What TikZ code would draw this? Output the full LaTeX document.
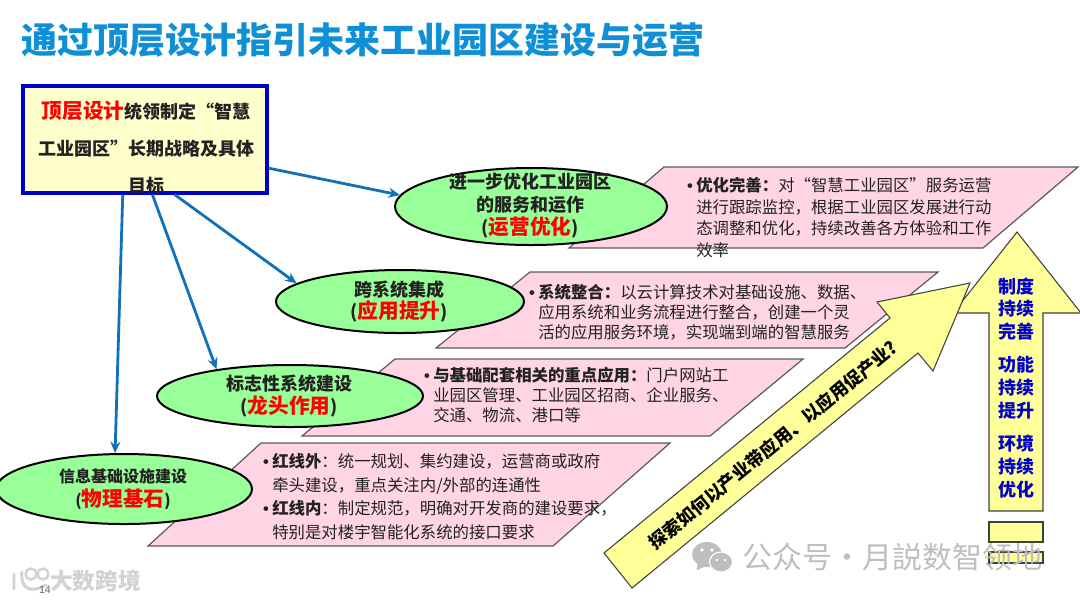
\documentclass[tikz,border=0pt]{standalone}
\usepackage{fontspec}
\setmainfont{Noto Sans CJK SC}
\newfontfamily\latf{Liberation Sans}
\usetikzlibrary{shapes.geometric,calc,arrows.meta}
\definecolor{titleblue}{HTML}{0F8FD5}
\definecolor{linkblue}{HTML}{1070B8}
\definecolor{boxblue}{HTML}{0000CC}
\definecolor{boxfill}{HTML}{FFFFCC}
\definecolor{ovalfill}{HTML}{99FF99}
\definecolor{pinkfill}{HTML}{FFD5E5}
\definecolor{pinkedge}{HTML}{5A5A5A}
\definecolor{arrowfill}{HTML}{FFFF99}
\definecolor{bodytext}{HTML}{222222}
\definecolor{wmgray}{HTML}{BEBEBE}
\definecolor{wmlight}{HTML}{D2D2D2}
\newcommand{\hl}[1]{{\color{red}\fontsize{15.5pt}{15.5pt}\selectfont #1}}
\newcommand{\bul}{\llap{{\latf\bfseries •}\hspace{2.5pt}}}
\tikzset{
  oval/.style={ellipse,draw=black,line width=1.5pt,fill=ovalfill,inner sep=0pt},
  ovaltext/.style={inner sep=0pt,align=center,font=\bfseries\fontsize{13.5pt}{17.2pt}\selectfont,text=bodytext},
  pinkpoly/.style={draw=pinkedge,line width=0.9pt,fill=pinkfill},
  body/.style={inner sep=0pt,anchor=north west,align=left,text=bodytext},
  link/.style={draw=linkblue,line width=2.1pt,-{Stealth[length=8.5pt,width=7.5pt]}},
  yellowpoly/.style={draw=black!75,line width=0.8pt,fill=arrowfill},
  sidetext/.style={inner sep=0pt,align=center,text=boxblue,font=\bfseries\fontsize{13.5pt}{17.2pt}\selectfont}
}
\begin{document}
\begin{tikzpicture}[x=0.75pt,y=-0.75pt]
\useasboundingbox (0,0) rectangle (1080,601);
\node[anchor=west,inner sep=0pt,text=titleblue,font=\bfseries\fontsize{26.95pt}{27pt}\selectfont] (title) at (21,40) {通过顶层设计指引未来工业园区建设与运营};
% pink panels
\draw[pinkpoly] (664,167) -- (1078,167) -- (983,248) -- (569,248) -- cycle;
\draw[pinkpoly] (530,272) -- (938,272) -- (845,348) -- (436,348) -- cycle;
\draw[pinkpoly] (395,359) -- (803,359) -- (710,436) -- (302,436) -- cycle;
\draw[pinkpoly] (261,443) -- (670,443) -- (553,546) -- (148,546) -- cycle;
% top box
\node[draw=boxblue,line width=2.4pt,fill=boxfill,minimum width=244pt*0.75,minimum height=107pt*0.75,inner sep=0pt] (box) at (145,139.5) {};
% ovals
\node[oval,minimum width=272pt*0.75,minimum height=77pt*0.75] (e1) at (531,206.5) {};
\node[oval,minimum width=248pt*0.75,minimum height=63pt*0.75] (e2) at (400,301.5) {};
\node[oval,minimum width=266pt*0.75,minimum height=62pt*0.75] (e3) at (290,396) {};
\node[oval,minimum width=256pt*0.75,minimum height=70pt*0.75] (e4) at (124,489) {};
% connectors
\draw[link] ($(box.north east)!0.76!(box.south east)$) -- (e1.175);
\draw[link] ($(box.south west)!0.62!(box.south east)$) -- (e2.170);
\draw[link] ($(box.south west)!0.53!(box.south east)$) -- (e3.160.6);
\draw[link] ($(box.south west)!0.41!(box.south east)$) -- (e4.104.4);
% box text
\node[inner sep=0pt,align=center,text=bodytext,font=\bfseries\fontsize{13.5pt}{28pt}\selectfont] (boxtext) at (146,147.5)
 {\hl{顶层设计}统领制定“智慧\\工业园区”长期战略及具体\\目标};
% oval text
\node[ovaltext] (e1t) at (530,206) {进一步优化工业园区\\的服务和运作\\({\hl{运营优化}})};
\node[ovaltext] (e2t) at (399,301.5) {跨系统集成\\({\hl{应用提升}})};
\node[ovaltext] (e3t) at (289,396) {标志性系统建设\\({\hl{龙头作用}})};
\node[ovaltext,font=\bfseries\fontsize{12pt}{17.6pt}\selectfont] (e4t) at (123,489) {信息基础设施建设\\({\hl{物理基石}})};
% panel text
\node[body,font=\fontsize{12.3pt}{16.3pt}\selectfont] (p1t) at (696,177)
 {\bul{\bfseries 优化完善：}对“智慧工业园区”服务运营\\进行跟踪监控，根据工业园区发展进行动\\态调整和优化，持续改善各方体验和工作\\效率};
\node[body,font=\fontsize{12.3pt}{15pt}\selectfont] (p2t) at (538,284)
 {\bul{\bfseries 系统整合：}以云计算技术对基础设施、数据、\\应用系统和业务流程进行整合，创建一个灵\\活的应用服务环境，实现端到端的智慧服务};
\node[body,font=\fontsize{12.3pt}{15pt}\selectfont] (p3t) at (433,367)
 {\bul{\bfseries 与基础配套相关的重点应用：}门户网站工\\业园区管理、工业园区招商、企业服务、\\交通、物流、港口等};
\node[body,font=\fontsize{12.3pt}{17.7pt}\selectfont] (p4t) at (272,453)
 {\bul{\bfseries 红线外}：统一规划、集约建设，运营商或政府\\牵头建设，重点关注内/外部的连通性\\\bul{\bfseries 红线内}：制定规范，明确对开发商的建设要求，\\特别是对楼宇智能化系统的接口要求};
% vertical arrow
\draw[yellowpoly] (1017,232) -- (1081,313) -- (1043,313) -- (1043,511) -- (989,511) -- (989,313) -- (953,313) -- cycle;
\node[yellowpoly,minimum width=54pt*0.75,minimum height=20pt*0.75,inner sep=0pt] (r1) at (1016,532) {};
\node[yellowpoly,minimum width=54pt*0.75,minimum height=11pt*0.75,inner sep=0pt] (r2) at (1016,557.5) {};
% diagonal arrow
\draw[yellowpoly] (604,553) -- (890,318) -- (877,302) -- (970,283) -- (933,371) -- (918,353) -- (632,588) -- cycle;
\node[inner sep=0pt,rotate=39.4,text=black,font=\bfseries\fontsize{13.5pt}{14pt}\selectfont] (diag) at (773,445) {探索如何以产业带应用、以应用促产业?};
% side text
\node[sidetext] (s1) at (1016,309) {制度\\持续\\完善};
\node[sidetext] (s2) at (1016,388) {功能\\持续\\提升};
\node[sidetext] (s3) at (1016,467) {环境\\持续\\优化};
% watermarks
\fill[wmgray] (707,554.5) ellipse (15 and 12.5);
\draw[wmgray,fill=wmgray] (698,563) -- (697,570) -- (705,566) -- cycle;
\draw[white,line width=0.8pt,fill=wmgray] (721,562) ellipse (11.5 and 10);
\fill[white] (702,550) circle (1.8) (712,550) circle (1.8) (717,560) circle (1.4) (725,560) circle (1.4);
\node[anchor=west,inner sep=0pt,text=wmgray,font=\fontsize{22.5pt}{23pt}\selectfont] (wm) at (742,557) {公众号·月説数智领地};
\draw[wmlight,line width=2.2pt,line cap=round] (14,574) -- (14,589) (22,572) .. controls (20,588) and (30,594) .. (46,585);
\draw[wmlight,line width=1.8pt] (31,574) circle (5.5) (43,574) circle (5.5);
\node[anchor=west,inner sep=0pt,text=wmlight,font=\bfseries\fontsize{17pt}{17pt}\selectfont] (wm2) at (50,581) {大数跨境};
\node[inner sep=0pt,text=black!60,font=\latf\fontsize{8pt}{8pt}\selectfont] (pg) at (45,590) {14};
\end{tikzpicture}
\end{document}
